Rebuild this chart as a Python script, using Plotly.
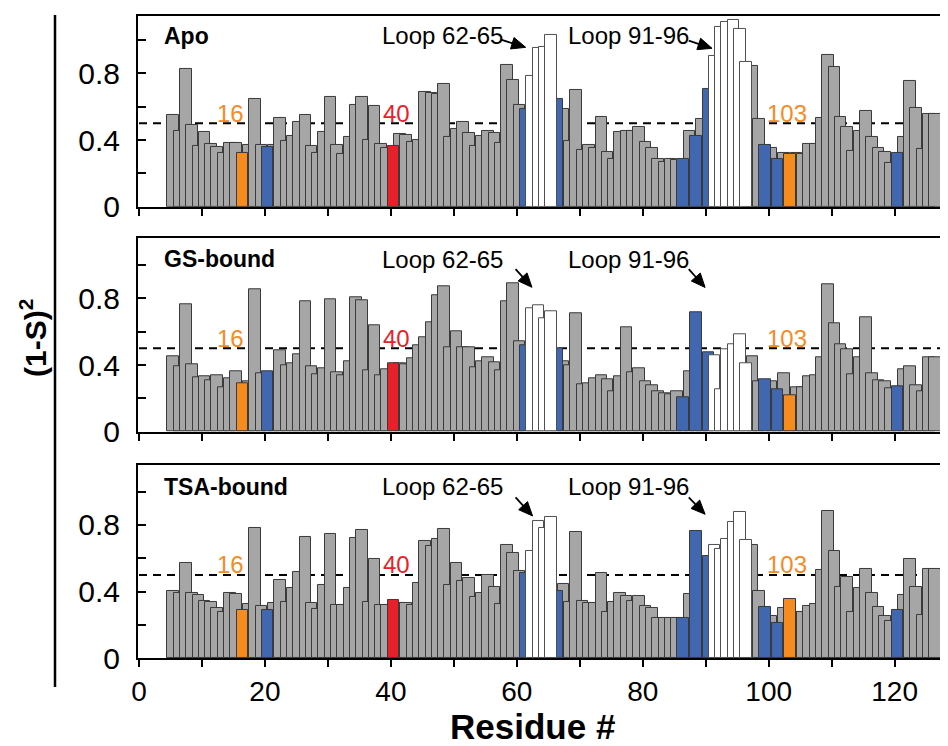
import math
import plotly.graph_objects as go

# ---------------- data ----------------
residues = list(range(5, 127))

apo = [0.55, 0.456, 0.826, 0.49, 0.366, 0.446, 0.378, 0.358, 0.32, 0.38,
       0.38, 0.32, 0.368, 0.644, 0.368, 0.358, 0.372, 0.534, 0.392, 0.424,
       0.51, 0.548, 0.362, 0.32, 0.446, 0.656, 0.368, 0.314, 0.42, 0.608,
       0.656, 0.398, 0.606, 0.374, 0.35, 0.364, 0.438, 0.43, 0.39, 0.40,
       0.69, 0.68, 0.676, 0.734, 0.416, 0.466, 0.506, 0.444, 0.364, 0.424,
       0.454, 0.44, 0.38, 0.848, 0.758, 0.612, 0.588, 0.786, 0.95, 0.96,
       1.03, 0.646, 0.584, 0.396, 0.70, 0.34, 0.372, 0.35, 0.54, 0.326,
       0.284, 0.446, 0.456, 0.452, 0.476, 0.386, 0.352, 0.284, 0.27, 0.284,
       0.28, 0.284, 0.454, 0.422, 0.526, 0.706, 0.904, 1.076, 1.108, 1.118,
       1.064, 0.87, 0.842, 0.524, 0.37, 0.35, 0.286, 0.32, 0.316, 0.32,
       0.318, 0.374, 0.376, 0.534, 0.91, 0.84, 0.54, 0.476, 0.336, 0.456,
       0.576, 0.416, 0.352, 0.33, 0.262, 0.32, 0.416, 0.754, 0.594, 0.344,
       0.554, 0.554]

gs_bound = [0.45, 0.394, 0.764, 0.402, 0.326, 0.33, 0.308, 0.338, 0.264, 0.32,
            0.36, 0.292, 0.30, 0.854, 0.35, 0.362, 0.35, 0.49, 0.398, 0.41,
            0.466, 0.782, 0.394, 0.344, 0.38, 0.794, 0.356, 0.34, 0.424, 0.806,
            0.79, 0.368, 0.64, 0.338, 0.374, 0.41, 0.408, 0.406, 0.44, 0.52,
            0.566, 0.656, 0.816, 0.87, 0.504, 0.60, 0.506, 0.504, 0.384, 0.424,
            0.446, 0.416, 0.368, 0.784, 0.89, 0.54, 0.516, 0.74, 0.756, 0.68,
            0.72, 0.498, 0.424, 0.40, 0.71, 0.286, 0.29, 0.32, 0.336, 0.316,
            0.244, 0.33, 0.624, 0.356, 0.38, 0.30, 0.276, 0.24, 0.23, 0.224,
            0.24, 0.204, 0.36, 0.714, 0.424, 0.476, 0.456, 0.254, 0.494, 0.524,
            0.584, 0.41, 0.45, 0.30, 0.316, 0.30, 0.254, 0.35, 0.218, 0.264,
            0.266, 0.334, 0.34, 0.446, 0.884, 0.65, 0.526, 0.496, 0.344, 0.446,
            0.686, 0.35, 0.306, 0.304, 0.26, 0.274, 0.374, 0.394, 0.278, 0.244,
            0.446, 0.446]

tsa_bound = [0.406, 0.394, 0.57, 0.39, 0.378, 0.344, 0.336, 0.30, 0.276, 0.39,
             0.384, 0.288, 0.324, 0.784, 0.314, 0.288, 0.33, 0.47, 0.34, 0.42,
             0.52, 0.73, 0.334, 0.294, 0.44, 0.744, 0.318, 0.318, 0.424, 0.72,
             0.768, 0.336, 0.598, 0.322, 0.318, 0.348, 0.334, 0.334, 0.318, 0.45,
             0.706, 0.676, 0.718, 0.776, 0.44, 0.57, 0.462, 0.48, 0.366, 0.39,
             0.502, 0.43, 0.324, 0.68, 0.634, 0.526, 0.51, 0.644, 0.824, 0.78,
             0.846, 0.406, 0.446, 0.34, 0.756, 0.346, 0.33, 0.33, 0.51, 0.278,
             0.34, 0.394, 0.374, 0.346, 0.374, 0.316, 0.304, 0.24, 0.244, 0.244,
             0.244, 0.244, 0.384, 0.762, 0.40, 0.614, 0.68, 0.654, 0.714, 0.82,
             0.876, 0.71, 0.68, 0.404, 0.308, 0.256, 0.214, 0.30, 0.354, 0.276,
             0.276, 0.314, 0.324, 0.53, 0.884, 0.644, 0.426, 0.49, 0.28, 0.424,
             0.536, 0.394, 0.31, 0.254, 0.224, 0.292, 0.378, 0.594, 0.426, 0.258,
             0.534, 0.534]

panel_names = ["Apo", "GS-bound", "TSA-bound"]
blue_res = [20, 61, 66, 86, 88, 90, 99, 101, 120]
orange_res = [16, 103]
red_res = [40]
loop_res = [62, 63, 64, 65, 91, 92, 93, 94, 95, 96]
x_major_ticks = [0, 20, 40, 60, 80, 100, 120]
x_minor_ticks = [10, 30, 50, 70, 90, 110]
y_major_ticks = [0, 0.4, 0.8]
y_minor_ticks = [0.2, 0.6, 1.0]
threshold = 0.5

# ---------------- style ----------------
GREY = "#a6a6a6"
BLUE = "#4167b0"
ORANGE = "#f68b1f"
RED = "#e8202a"
EDGE = "#3a3a3a"
BAR_W = 1.84
BAR_OFF = -0.5
X_RANGE = [-0.16, 127.2]
L_MARGIN, R_MARGIN = 138, 8
FIG_W, FIG_H = 948, 746
PX_X = (FIG_W - L_MARGIN - R_MARGIN) / (X_RANGE[1] - X_RANGE[0])

domains = [[0.7229, 0.9786], [0.4213, 0.6806], [0.1176, 0.3767]]
y_tops = [1.144, 1.160, 1.160]
title_y = [1.024, 1.036, 1.028]
loop_text_y = [1.024, 1.03, 1.028]
arrows = [
    [((57.6, 1.0), (61.4, 0.956)), ((87.3, 0.996), (91.0, 0.95))],
    [((59.8, 0.975), (62.4, 0.866)), ((87.3, 0.975), (89.9, 0.865))],
    [((59.8, 0.965), (62.5, 0.854)), ((87.3, 0.965), (89.9, 0.864))],
]

def color_of(r):
    if r in blue_res:
        return BLUE
    if r in orange_res:
        return ORANGE
    return RED

fig = go.Figure()
annotations = []
shapes = []
colored = sorted(blue_res + orange_res + red_res)
FONT = "Liberation Sans, Arial"

for k, vals in enumerate([apo, gs_bound, tsa_bound]):
    ax = "" if k == 0 else str(k + 1)
    xr = "x" + ax
    yr = "y" + ax
    val = dict(zip(residues, vals))
    grey_x = [r for r in residues if r not in colored and r not in loop_res]
    fig.add_trace(go.Bar(
        x=grey_x, y=[val[r] for r in grey_x], width=BAR_W, offset=BAR_OFF,
        marker=dict(color=GREY, line=dict(color=EDGE, width=1)),
        xaxis=xr, yaxis=yr, showlegend=False, hoverinfo="x+y"))
    fig.add_trace(go.Bar(
        x=colored, y=[val[r] for r in colored], width=BAR_W, offset=BAR_OFF,
        marker=dict(color=[color_of(r) for r in colored], line=dict(color=EDGE, width=1)),
        xaxis=xr, yaxis=yr, showlegend=False, hoverinfo="x+y"))
    fig.add_trace(go.Bar(
        x=loop_res, y=[val[r] for r in loop_res], width=BAR_W, offset=BAR_OFF,
        marker=dict(color="white", line=dict(color="#505050", width=1)),
        xaxis=xr, yaxis=yr, showlegend=False, hoverinfo="x+y"))

    fig.update_layout(**{
        "xaxis" + ax: dict(
            domain=[0, 1], range=X_RANGE, anchor=yr, automargin=False,
            showline=True, linewidth=2, linecolor="black", mirror=True,
            ticks="outside", ticklen=7, tickwidth=1.5, tickcolor="black",
            tickvals=x_major_ticks, ticktext=[str(v) for v in x_major_ticks],
            minor=dict(tickvals=x_minor_ticks, ticks="outside", ticklen=7,
                       tickwidth=1.5, tickcolor="black", showgrid=False),
            showticklabels=(k == 2), showgrid=False, zeroline=False,
            tickfont=dict(family=FONT, size=28, color="black")),
        "yaxis" + ax: dict(
            domain=domains[k], range=[0, y_tops[k]], anchor=xr, automargin=False,
            showline=True, linewidth=2, linecolor="black",
            ticks="inside", ticklen=8, tickwidth=1.5, tickcolor="black",
            tickvals=y_major_ticks, ticktext=["0", "0.4", "0.8"],
            minor=dict(tickvals=y_minor_ticks, ticks="inside", ticklen=8,
                       tickwidth=1.5, tickcolor="black", showgrid=False),
            showgrid=False, zeroline=False, ticklabelstandoff=10,
            tickfont=dict(family=FONT, size=30, color="black")),
    })

    shapes.append(dict(type="line", xref=xr, yref=yr, x0=0, x1=X_RANGE[1],
                       y0=threshold, y1=threshold, layer="below",
                       line=dict(color="black", width=2, dash="8px,6px")))
    annotations.append(dict(xref=xr, yref=yr, x=3.6, y=title_y[k], text="<b>" + panel_names[k] + "</b>",
                            showarrow=False, xanchor="left", yanchor="middle",
                            font=dict(family=FONT, size=23, color="black")))
    annotations.append(dict(xref=xr, yref=yr, x=48.2, y=loop_text_y[k], text="Loop 62-65",
                            showarrow=False, xanchor="center", yanchor="middle",
                            font=dict(family=FONT, size=24, color="black")))
    annotations.append(dict(xref=xr, yref=yr, x=77.7, y=loop_text_y[k], text="Loop 91-96",
                            showarrow=False, xanchor="center", yanchor="middle",
                            font=dict(family=FONT, size=24, color="black")))

    # arrows drawn as a line plus a filled triangular head
    domain_px = (domains[k][1] - domains[k][0]) * FIG_H
    px_y = domain_px / y_tops[k]
    for (tail, head) in arrows[k]:
        tx, ty = tail[0] * PX_X, -tail[1] * px_y
        hx, hy = head[0] * PX_X, -head[1] * px_y
        dx, dy = hx - tx, hy - ty
        n = math.hypot(dx, dy)
        ux, uy = dx / n, dy / n
        head_len, half_w = 14.0, 6.0
        bx, by = hx - ux * head_len, hy - uy * head_len
        lx, ly = bx - uy * half_w, by + ux * half_w
        rx, ry = bx + uy * half_w, by - ux * half_w
        to_d = lambda px, py: (px / PX_X, -py / px_y)
        b = to_d(bx + ux * 2, by + uy * 2)
        l = to_d(lx, ly)
        r = to_d(rx, ry)
        shapes.append(dict(type="line", xref=xr, yref=yr, x0=tail[0], y0=tail[1],
                           x1=b[0], y1=b[1], line=dict(color="black", width=1.8)))
        shapes.append(dict(type="path", xref=xr, yref=yr,
                           path=f"M {head[0]},{head[1]} L {l[0]},{l[1]} L {r[0]},{r[1]} Z",
                           fillcolor="black", line=dict(color="black", width=1)))

    for txt, xpos, col in [("16", 14.5, ORANGE), ("40", 40.9, RED), ("103", 102.9, ORANGE)]:
        annotations.append(dict(xref=xr, yref=yr, x=xpos, y=0.56, text=txt, showarrow=False,
                                xanchor="center", yanchor="middle",
                                font=dict(family=FONT, size=24, color=col)))

# y-axis title and x-axis title
annotations.append(dict(xref="paper", yref="paper", x=(33 - L_MARGIN) / 802, y=1 - 338 / FIG_H,
                        text="<b>(1-S)<sup>2</sup></b>", textangle=-90, showarrow=False,
                        xanchor="center", yanchor="middle",
                        font=dict(family=FONT, size=30, color="black")))
annotations.append(dict(xref="paper", yref="paper", x=(532 - L_MARGIN) / 802, y=1 - 726 / FIG_H,
                        text="<b>Residue #</b>", showarrow=False,
                        xanchor="center", yanchor="middle",
                        font=dict(family=FONT, size=35, color="black")))
# long vertical line at left
shapes.append(dict(type="line", xref="paper", yref="paper",
                   x0=(55 - L_MARGIN) / 802, x1=(55 - L_MARGIN) / 802, y0=1 - 15 / FIG_H, y1=1 - 687 / FIG_H,
                   line=dict(color="black", width=2.5)))

fig.update_layout(
    width=FIG_W, height=FIG_H,
    margin=dict(l=L_MARGIN, r=R_MARGIN, t=0, b=0),
    barmode="overlay", bargap=0,
    plot_bgcolor="white", paper_bgcolor="white",
    annotations=annotations, shapes=shapes,
    showlegend=False,
)

fig.write_html("out.html", config={"displayModeBar": False},
               post_script="document.body.style.margin='0px';document.body.style.overflow='hidden';")
